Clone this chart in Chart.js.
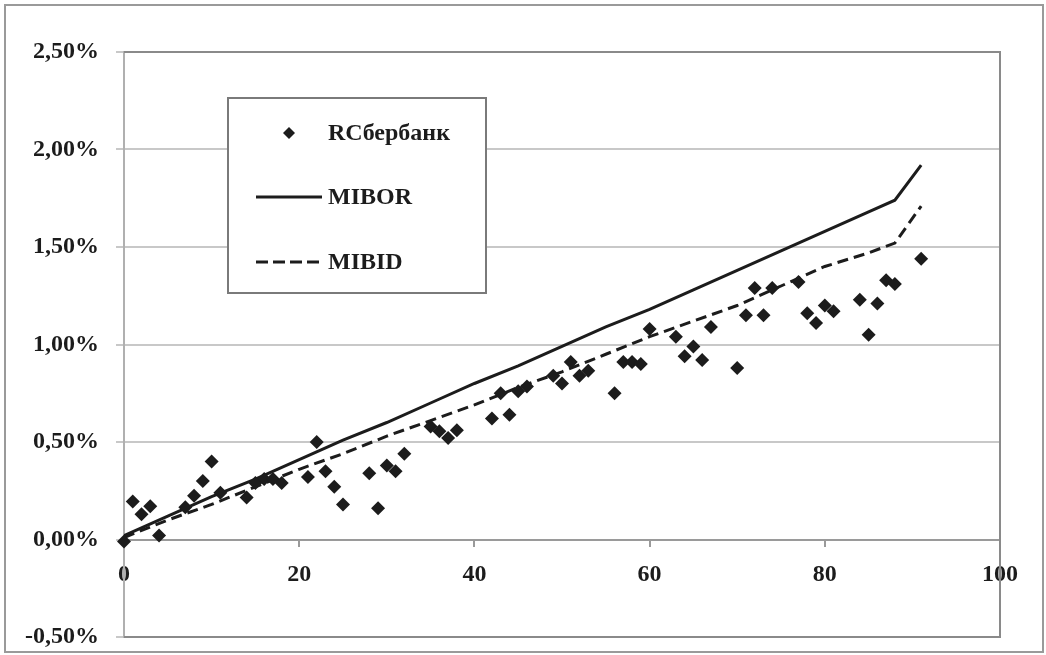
<!DOCTYPE html>
<html>
<head>
<meta charset="utf-8">
<script src="https://cdn.jsdelivr.net/npm/chart.js@4.4.1/dist/chart.umd.min.js"></script>
<style>
  html, body { margin: 0; padding: 0; background: #fff; }
  #wrap { position: relative; width: 1046px; height: 655px; }
</style>
</head>
<body>
<div id="wrap"><canvas id="chart" width="1046" height="655"></canvas></div>
<script>
// --- data (days, rate in %) ---
const sberDays = [0, 1, 2, 3, 4, 7, 8, 9, 10, 11, 14, 15, 16, 17, 18, 21, 22, 23, 24, 25,
    28, 29, 30, 31, 32, 35, 36, 37, 38, 42, 43, 44, 45, 46, 49, 50, 51, 52, 53,
    56, 57, 58, 59, 60, 63, 64, 65, 66, 67, 70, 71, 72, 73, 74, 77, 78, 79, 80, 81,
    84, 85, 86, 87, 88, 91];
const sberValues = [-0.01, 0.195, 0.13, 0.17, 0.02, 0.165, 0.225, 0.30, 0.40, 0.24, 0.215, 0.29, 0.31, 0.31, 0.29, 0.32, 0.50, 0.35, 0.27, 0.18,
    0.34, 0.16, 0.38, 0.35, 0.44, 0.58, 0.555, 0.52, 0.56, 0.62, 0.75, 0.64, 0.76, 0.785, 0.84, 0.80, 0.91, 0.84, 0.865,
    0.75, 0.91, 0.91, 0.90, 1.08, 1.04, 0.94, 0.99, 0.92, 1.09, 0.88, 1.15, 1.29, 1.15, 1.29, 1.32, 1.16, 1.11, 1.20, 1.17,
    1.23, 1.05, 1.21, 1.33, 1.31, 1.44];

const rateDays = [0, 5, 10, 15, 20, 25, 30, 35, 40, 45, 50, 55, 60, 65, 70, 75, 80, 85, 88, 91];
const miborValues = [0.02, 0.12, 0.22, 0.31, 0.41, 0.51, 0.60, 0.70, 0.80, 0.89, 0.99, 1.09, 1.18, 1.28, 1.38, 1.48, 1.58, 1.68, 1.74, 1.92];
const mibidValues = [0.01, 0.10, 0.18, 0.27, 0.36, 0.44, 0.53, 0.61, 0.69, 0.78, 0.86, 0.95, 1.04, 1.12, 1.20, 1.30, 1.40, 1.47, 1.52, 1.71];

const seriesLabels = ['RCбербанк', 'MIBOR', 'MIBID'];
const xTicks = [0, 20, 40, 60, 80, 100];
const yTicks = [-0.5, 0, 0.5, 1.0, 1.5, 2.0, 2.5];

const FONT = "'Liberation Serif', 'Times New Roman', serif";
const INK = '#1c1c1c';

function toPoints(xs, ys) {
    return xs.map((x, i) => ({ x: x, y: ys[i] }));
}

// frame around the whole picture and around the plot area
const framePlugin = {
    id: 'frame',
    beforeDraw(chart) {
        const ctx = chart.ctx;
        ctx.save();
        ctx.strokeStyle = '#9a9a9a';
        ctx.lineWidth = 2;
        ctx.strokeRect(5, 5, 1038, 647);
        ctx.restore();
    },
    afterDatasetsDraw(chart) {
        const { ctx, chartArea: a } = chart;
        ctx.save();
        ctx.strokeStyle = '#8a8a8a';
        ctx.lineWidth = 2;
        ctx.beginPath();
        ctx.moveTo(a.left, a.top);
        ctx.lineTo(a.right, a.top);
        ctx.lineTo(a.right, a.bottom);
        ctx.lineTo(a.left, a.bottom);
        ctx.stroke();
        ctx.restore();
    }
};

// boxed legend inside the plot
const legendBoxPlugin = {
    id: 'legendBox',
    afterDraw(chart) {
        const ctx = chart.ctx;
        const box = { x: 228, y: 98, w: 258, h: 195 };
        ctx.save();
        ctx.fillStyle = '#fff';
        ctx.fillRect(box.x, box.y, box.w, box.h);
        ctx.strokeStyle = '#7a7a7a';
        ctx.lineWidth = 2;
        ctx.strokeRect(box.x, box.y, box.w, box.h);

        ctx.fillStyle = INK;
        ctx.font = 'bold 24px ' + FONT;
        ctx.textBaseline = 'middle';
        ctx.textAlign = 'left';

        // scatter marker
        const my = 133;
        ctx.beginPath();
        ctx.moveTo(289, my - 6);
        ctx.lineTo(295, my);
        ctx.lineTo(289, my + 6);
        ctx.lineTo(283, my);
        ctx.closePath();
        ctx.fill();
        ctx.fillText(seriesLabels[0], 328, my + 1);

        // solid line
        ctx.strokeStyle = INK;
        ctx.lineWidth = 3;
        ctx.beginPath();
        ctx.moveTo(256, 197);
        ctx.lineTo(322, 197);
        ctx.stroke();
        ctx.fillText(seriesLabels[1], 328, 198);

        // dashed line
        ctx.setLineDash([12, 5]);
        ctx.beginPath();
        ctx.moveTo(256, 262);
        ctx.lineTo(322, 262);
        ctx.stroke();
        ctx.setLineDash([]);
        ctx.fillText(seriesLabels[2], 328, 263);
        ctx.restore();
    }
};

new Chart(document.getElementById('chart'), {
    type: 'scatter',
    data: {
        datasets: [
            {
                label: seriesLabels[0],
                data: toPoints(sberDays, sberValues),
                pointStyle: 'rectRot',
                pointRadius: 7,
                pointBackgroundColor: INK,
                pointBorderColor: INK,
                pointBorderWidth: 0,
                clip: false,
                order: 0
            },
            {
                label: seriesLabels[1],
                type: 'line',
                data: toPoints(rateDays, miborValues),
                borderColor: INK,
                borderWidth: 3,
                pointRadius: 0,
                tension: 0,
                fill: false,
                order: 1
            },
            {
                label: seriesLabels[2],
                type: 'line',
                data: toPoints(rateDays, mibidValues),
                borderColor: INK,
                borderWidth: 3,
                borderDash: [11, 6],
                pointRadius: 0,
                tension: 0,
                fill: false,
                order: 2
            }
        ]
    },
    options: {
        responsive: false,
        animation: false,
        layout: { padding: { left: 0, right: 46, top: 52, bottom: 18 } },
        plugins: {
            legend: { display: false },
            tooltip: { enabled: false }
        },
        scales: {
            x: {
                type: 'linear',
                min: 0,
                max: 100,
                position: { y: 0 },
                afterBuildTicks: (scale) => { scale.ticks = xTicks.map(v => ({ value: v })); },
                grid: { drawOnChartArea: false, drawTicks: true, tickLength: 6, color: '#9a9a9a', lineWidth: 2 },
                border: { display: true, color: '#9a9a9a', width: 2 },
                ticks: {
                    color: INK,
                    padding: 15,
                    maxRotation: 0,
                    font: { family: FONT, size: 24, weight: 'bold' }
                }
            },
            y: {
                type: 'linear',
                min: -0.5,
                max: 2.5,
                afterBuildTicks: (scale) => { scale.ticks = yTicks.map(v => ({ value: v })); },
                afterFit: (scale) => {
                    scale.width = 124;
                    scale.paddingTop = 0;
                    scale.paddingBottom = 0;
                },
                grid: { color: '#c8c8c8', lineWidth: 2, drawTicks: true, tickLength: 8 },
                border: { display: true, color: '#b0b0b0', width: 2 },
                ticks: {
                    color: INK,
                    padding: 17,
                    font: { family: FONT, size: 24, weight: 'bold' },
                    callback: (v) => v.toFixed(2).replace('.', ',') + '%'
                }
            }
        }
    },
    plugins: [framePlugin, legendBoxPlugin]
});
</script>
</body>
</html>
